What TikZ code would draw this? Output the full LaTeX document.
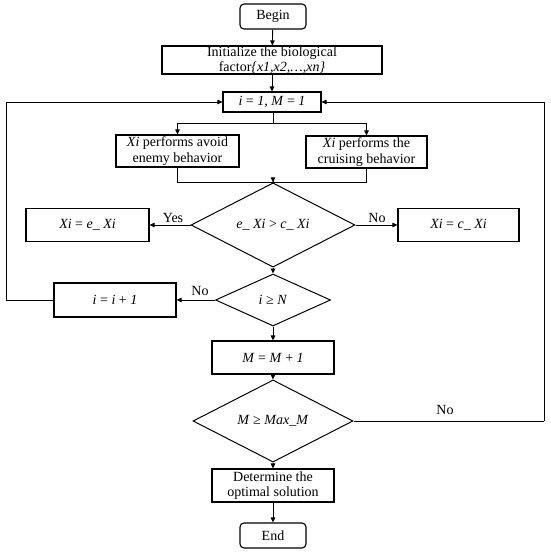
\documentclass[tikz,border=0pt]{standalone}
\usepackage{fontspec}
\setmainfont{Liberation Serif}
\usetikzlibrary{arrows.meta,shapes.geometric}
\begin{document}
\begin{tikzpicture}[x=1pt,y=-1pt,
  font=\fontsize{14}{15.5}\selectfont,
  box/.style={draw, line width=1.1pt, inner sep=0pt, align=center},
  term/.style={box, rounded corners=4pt, minimum width=66pt, minimum height=25pt},
  dec/.style={draw, line width=1pt, diamond, inner sep=0pt, align=center},
  conn/.style={line width=0.9pt},
  arr/.style={conn, -{Triangle[length=5pt,width=4.5pt]}},
  lbl/.style={inner sep=0pt}]
\useasboundingbox (0,0) rectangle (550,552);

\node[term] (begin) at (273,16.5) {Begin};
\node[box, minimum width=220pt, minimum height=28pt] (init) at (272,60)
  {Initialize the biological\\factor\textit{\{x1,x2,…,xn\}}};
\node[box, minimum width=98pt, minimum height=20pt] (i1) at (272,102) {\textit{i} = \textit{1}, \textit{M} = \textit{1}};
\node[box, minimum width=123pt, minimum height=32pt] (avoid) at (177.5,151)
  {\textit{Xi} performs avoid\\enemy behavior};
\node[box, minimum width=121pt, minimum height=32pt] (cruise) at (366.5,152)
  {\textit{Xi} performs the\\cruising behavior};
\node[dec, minimum width=164pt, minimum height=60pt] (d1) at (273,225) {\textit{e\_ Xi} > \textit{c\_ Xi}};
\node[box, minimum width=123pt, minimum height=33pt] (ex) at (87.5,225) {\textit{Xi} = \textit{e\_ Xi}};
\node[box, minimum width=121pt, minimum height=33pt] (cx) at (458.5,225) {\textit{Xi} = \textit{c\_ Xi}};
\node[dec, minimum width=115pt, minimum height=52pt] (d2) at (273,300) {\textit{i} ≥ \textit{N}};
\node[box, minimum width=122pt, minimum height=34pt] (inc) at (115,300) {\textit{i} = \textit{i} + \textit{1}};
\node[box, minimum width=122pt, minimum height=33pt] (mm) at (273,357.5) {\textit{M} = \textit{M} + \textit{1}};
\node[dec, minimum width=160pt, minimum height=54pt] (d3) at (273,421) {\textit{M} ≥ \textit{Max\_M}};
\node[box, minimum width=122pt, minimum height=33pt] (det) at (273,485.5)
  {Determine the\\optimal solution};
\node[term] (end) at (273,535.5) {End};

\coordinate (br) at (273,123);
\coordinate (mg) at (273,182);
\coordinate (lp) at (6,300);
\coordinate (rp) at (544,421);

\draw[arr] (begin) -- (init);
\draw[arr] (init) -- (i1);
\draw[conn] (i1.south -| br) -- (br);
\draw[arr] (br) -| (avoid);
\draw[arr] (br) -| (cruise);
\draw[conn] (avoid.south) |- (mg);
\draw[conn] (cruise.south) |- (mg);
\draw[arr] (mg) -- (d1.north);
\draw[arr] (d1.west) -- (ex.east);
\draw[arr] (d1.east) -- (cx.west);
\draw[arr] (d1.south) -- (d2.north);
\draw[arr] (d2.west) -- (inc.east);
\draw[conn] (inc.west) -- (lp);
\draw[arr] (lp) |- (i1.west);
\draw[arr] (d2.south) -- (mm.north);
\draw[arr] (mm.south) -- (d3.north);
\draw[conn] (d3.east) -- (rp);
\draw[arr] (rp) |- (i1.east);
\draw[arr] (d3.south) -- (det.north);
\draw[arr] (det.south) -- (end.north);

\node[lbl] (yes) at (173,218) {Yes};
\node[lbl] (no1) at (377,218) {No};
\node[lbl] (no2) at (200,291) {No};
\node[lbl] (no3) at (445,410) {No};
\end{tikzpicture}
\end{document}
